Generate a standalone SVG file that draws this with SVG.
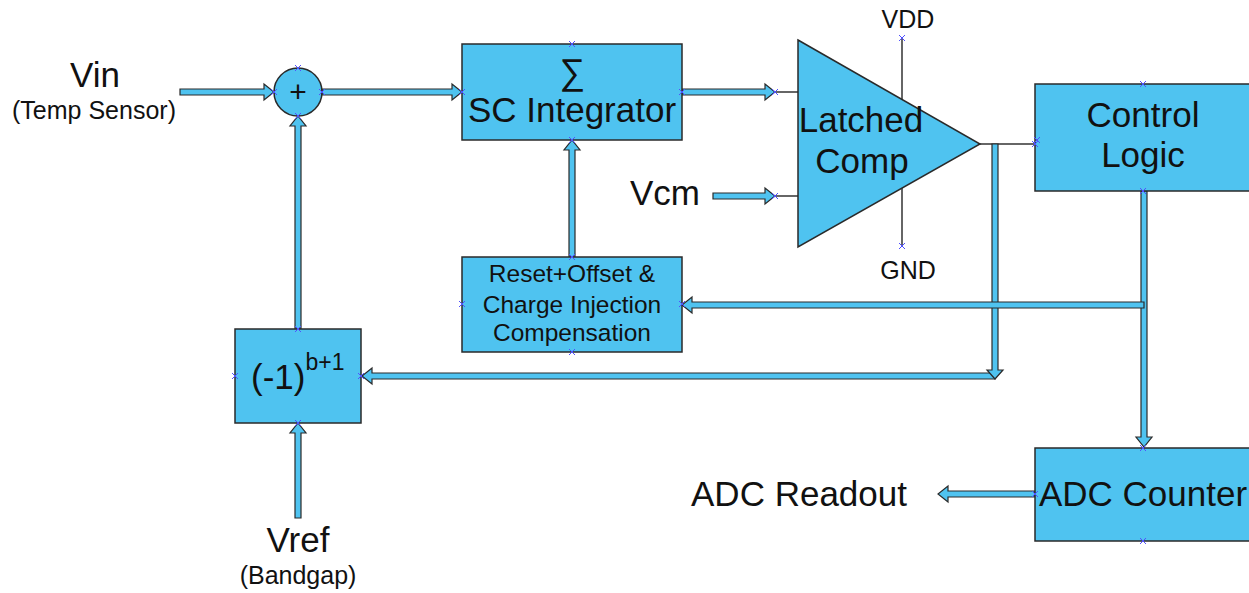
<svg xmlns="http://www.w3.org/2000/svg" width="1249" height="593" viewBox="0 0 1249 593">
<style>
.blk{fill:#4FC3F0;stroke:#2a2a2a;stroke-width:1.5}
.arr{fill:#4FC3F0;stroke:#2a2a2a;stroke-width:1.2;stroke-linejoin:miter}
.thin{stroke:#333;stroke-width:1.5;fill:none}
.t{font-family:"Liberation Sans",Arial,sans-serif;fill:#111;text-anchor:middle}
.big{font-size:35px}
.sm{font-size:25px}
.rs{font-size:24.5px}
.cx{stroke:#5050ff;stroke-width:1;fill:none}
</style>
<defs>
<path id="x" class="cx" d="M-3,-3L3,3M-3,3L3,-3"/>
</defs>
<rect width="1249" height="593" fill="#fff"/>

<g id="connectors">
<line class="thin" x1="775" y1="92" x2="798" y2="92"/>
<line class="thin" x1="775" y1="196" x2="798" y2="196"/>
<line class="thin" x1="980" y1="144" x2="1035" y2="144"/>
<polygon class="arr" points="180,89 264,89 264,84 274,92 264,100 264,95 180,95"/>
<polygon class="arr" points="322,89 452,89 452,84 462,92 452,100 452,95 322,95"/>
<polygon class="arr" points="682,89 765,89 765,84 775,92 765,100 765,95 682,95"/>
<polygon class="arr" points="713,193 765,193 765,188 775,196 765,204 765,199 713,199"/>
<polygon class="arr" points="995,373 372,373 372,368 362,376 372,384 372,379 995,379"/>
<polygon class="arr" points="992,144 998,144 998,370 1003,370 995,379 987,370 992,370"/>
<polygon class="arr" points="1141,191 1147,191 1147,437 1152,437 1144,447 1136,437 1141,437"/>
<polygon class="arr" points="1144,302 692,302 692,297 682,305 692,313 692,308 1144,308"/>
<polygon class="arr" points="569,257 569,150 564,150 572,140 580,150 575,150 575,257"/>
<polygon class="arr" points="295,329 295,126 290,126 298,116 306,126 301,126 301,329"/>
<polygon class="arr" points="295,518 295,433 290,433 298,423 306,433 301,433 301,518"/>
<polygon class="arr" points="1035,491 948,491 948,486 938,494 948,502 948,497 1035,497"/>
</g>

<g id="vin">
<text class="t big" x="95" y="87">Vin</text>
<text class="t sm" x="94" y="119">(Temp Sensor)</text>
</g>

<g id="sum">
<circle class="blk" cx="298" cy="92" r="24"/>
<text class="t" x="298" y="102" font-size="30">+</text>
</g>

<g id="integrator">
<rect class="blk" x="462" y="44" width="220" height="96"/>
<text class="t" x="572" y="84" font-size="36">∑</text>
<text class="t big" x="572" y="122">SC Integrator</text>
</g>

<g id="comparator">
<line class="thin" x1="902" y1="38" x2="902" y2="246"/>
<polygon class="blk" points="798,40 980,144 798,247"/>
<text class="t big" x="861" y="132">Latched</text>
<text class="t big" x="862" y="173">Comp</text>
<text class="t sm" x="908" y="28">VDD</text>
<text class="t sm" x="908" y="279">GND</text>
</g>

<g id="vcm">
<text class="t big" x="665" y="205">Vcm</text>
</g>

<g id="control">
<rect class="blk" x="1035" y="84" width="230" height="107"/>
<text class="t big" x="1143" y="127">Control</text>
<text class="t big" x="1143" y="167">Logic</text>
</g>

<g id="reset">
<rect class="blk" x="462" y="257" width="220" height="95"/>
<text class="t rs" x="572" y="282">Reset+Offset &amp;</text>
<text class="t rs" x="572" y="313">Charge Injection</text>
<text class="t rs" x="572" y="341">Compensation</text>
</g>

<g id="sign">
<rect class="blk" x="235" y="329" width="126" height="94"/>
<text x="251" y="389" font-family="Liberation Sans,Arial,sans-serif" fill="#111" font-size="35">(-1)<tspan font-size="23" dy="-19">b+1</tspan></text>
</g>

<g id="vref">
<text class="t big" x="298" y="552">Vref</text>
<text class="t sm" x="298" y="584">(Bandgap)</text>
</g>

<g id="counter">
<rect class="blk" x="1035" y="448" width="230" height="93"/>
<text class="t big" x="1143" y="506">ADC Counter</text>
</g>

<g id="readout">
<text class="t big" x="799" y="506">ADC Readout</text>
</g>

<g id="markers">
<use href="#x" x="298" y="68"/><use href="#x" x="274" y="92"/><use href="#x" x="322" y="92"/><use href="#x" x="298" y="116"/>
<use href="#x" x="572" y="44"/><use href="#x" x="462" y="92"/><use href="#x" x="682" y="92"/><use href="#x" x="572" y="140"/>
<use href="#x" x="775" y="92"/><use href="#x" x="775" y="196"/><use href="#x" x="902" y="38"/><use href="#x" x="902" y="246"/>
<use href="#x" x="1035" y="144"/><use href="#x" x="1037" y="140"/><use href="#x" x="1143" y="84"/><use href="#x" x="1143" y="191"/>
<use href="#x" x="572" y="257"/><use href="#x" x="462" y="304"/><use href="#x" x="682" y="304"/><use href="#x" x="572" y="352"/>
<use href="#x" x="235" y="376"/><use href="#x" x="361" y="376"/><use href="#x" x="298" y="329"/><use href="#x" x="298" y="423"/>
<use href="#x" x="1143" y="448"/><use href="#x" x="1035" y="494"/><use href="#x" x="1143" y="541"/>
</g>
</svg>
